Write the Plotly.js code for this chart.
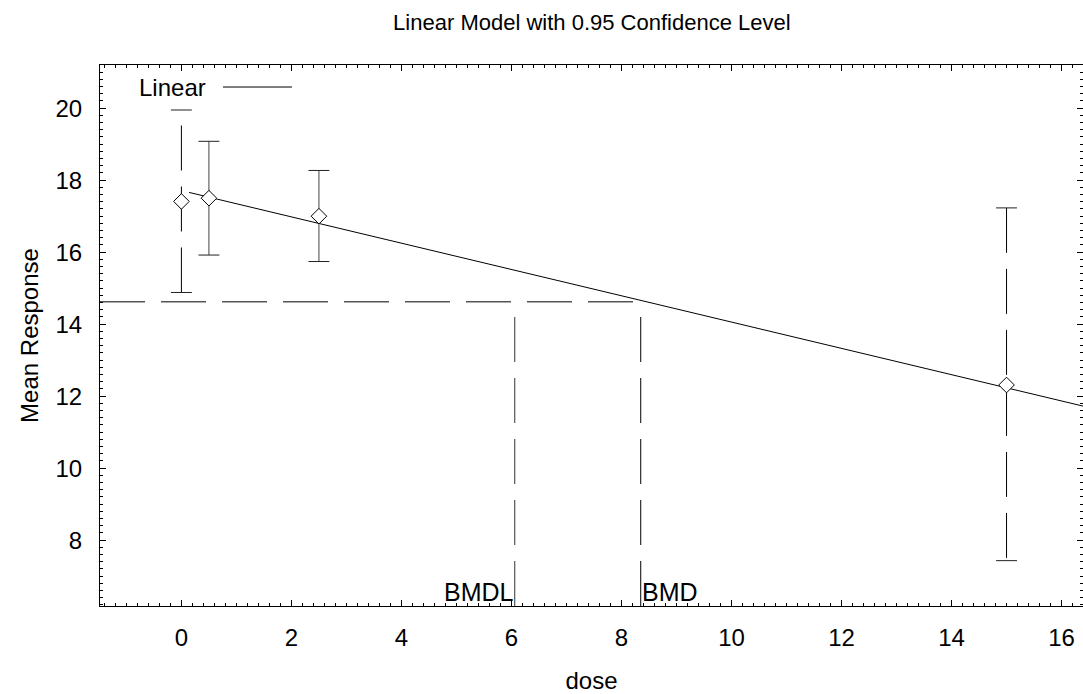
<!DOCTYPE html>
<html>
<head>
<meta charset="utf-8">
<script src="https://cdn.plot.ly/plotly-3.0.1.min.js"></script>
<style>html,body{margin:0;padding:0;background:#fff;}#chart{width:1083px;height:694px;}</style>
</head>
<body>
<div id="chart"></div>
<script>
// ---- data ----
const doses    = [0, 0.5, 2.5, 15];
const meanResp = [17.41, 17.50, 17.00, 12.31];
const ciLower  = [14.88, 15.92, 15.74, 7.43];
const ciUpper  = [19.95, 19.08, 18.27, 17.23];
const fitDose  = [0.14, 16.4];
const fitResp  = [17.66, 11.72];
const bmdlDose = 6.06;
const bmdDose  = 8.35;
const bmrResp  = 14.62;
const xTickVals = [0, 2, 4, 6, 8, 10, 12, 14, 16];
const yTickVals = [8, 10, 12, 14, 16, 18, 20];

// ---- layout constants ----
const xRange = [-1.48, 16.39];
const yRange = [6.17, 21.2];
const FONT = 'Liberation Sans, Arial, sans-serif';
const DASH = '45px,16px';
const capHalf = 0.19;
// style of each error bar: dashed or solid, and drawing direction
const barStyle = [
  {dash: DASH, fromTop: false, color: '#000'},
  {dash: 'solid', fromTop: false, color: '#444'},
  {dash: 'solid', fromTop: false, color: '#444'},
  {dash: DASH, fromTop: true, color: '#000'}
];

const traces = [];
// error bar stems
doses.forEach((d, i) => {
  const s = barStyle[i];
  traces.push({
    type: 'scatter', mode: 'lines',
    x: [d, d],
    y: s.fromTop ? [ciUpper[i], ciLower[i]] : [ciLower[i], ciUpper[i]],
    line: {color: s.color, width: 1, dash: s.dash},
    hoverinfo: 'skip', showlegend: false
  });
});
// caps
const capX = [], capY = [];
doses.forEach((d, i) => {
  capX.push(d - capHalf, d + capHalf, null, d - capHalf, d + capHalf, null);
  capY.push(ciUpper[i], ciUpper[i], null, ciLower[i], ciLower[i], null);
});
traces.push({
  type: 'scatter', mode: 'lines', x: capX, y: capY,
  line: {color: '#222', width: 1}, hoverinfo: 'skip', showlegend: false
});
// BMD reference lines
traces.push({
  type: 'scatter', mode: 'lines',
  x: [xRange[0], bmdDose], y: [bmrResp, bmrResp],
  line: {color: '#000', width: 1, dash: DASH}, hoverinfo: 'skip', showlegend: false
});
traces.push({
  type: 'scatter', mode: 'lines',
  x: [bmdlDose, bmdlDose], y: [yRange[0], bmrResp],
  line: {color: '#333', width: 1, dash: DASH}, hoverinfo: 'skip', showlegend: false
});
traces.push({
  type: 'scatter', mode: 'lines',
  x: [bmdDose, bmdDose], y: [yRange[0], bmrResp],
  line: {color: '#000', width: 1, dash: DASH}, hoverinfo: 'skip', showlegend: false
});
// fitted linear model
traces.push({
  type: 'scatter', mode: 'lines', name: 'Linear',
  x: fitDose, y: fitResp,
  line: {color: '#000', width: 1}, hoverinfo: 'skip', showlegend: false
});
// observed means
traces.push({
  type: 'scatter', mode: 'markers',
  x: doses, y: meanResp,
  marker: {symbol: 'diamond', size: 12, color: '#fff', line: {color: '#000', width: 1}},
  hoverinfo: 'skip', showlegend: false
});

const axisCommon = {
  showgrid: false, zeroline: false, showline: true, linecolor: '#000', linewidth: 1,
  mirror: 'allticks', ticks: 'inside', ticklen: 6, tickcolor: '#000', tickwidth: 1,
  minor: {ticks: 'inside', ticklen: 3, dtick: 0.2, tickcolor: '#000', tickwidth: 1, showgrid: false},
  tickfont: {family: FONT, size: 24, color: '#000'}
};

const layout = {
  width: 1083, height: 694,
  margin: {l: 100, r: 0, t: 65, b: 88, pad: 0},
  paper_bgcolor: '#fff', plot_bgcolor: '#fff',
  font: {family: FONT, color: '#000'},
  title: {
    text: 'Linear Model with 0.95 Confidence Level',
    font: {family: FONT, size: 22, color: '#000'},
    x: 0.5465, xref: 'container', xanchor: 'center',
    y: 1 - 22/694, yref: 'container', yanchor: 'middle'
  },
  xaxis: Object.assign({}, axisCommon, {
    range: xRange, tickmode: 'array', tickvals: xTickVals,
    ticklabelstandoff: 10,
    title: {text: 'dose', font: {family: FONT, size: 24, color: '#000'}, standoff: 22}
  }),
  yaxis: Object.assign({}, axisCommon, {
    range: yRange, tickmode: 'array', tickvals: yTickVals,
    ticklabelstandoff: 12,
    title: {text: 'Mean Response', font: {family: FONT, size: 24, color: '#000'}, standoff: 10}
  }),
  showlegend: false,
  annotations: [
    {text: 'Linear', xref: 'paper', yref: 'paper', x: 0.0376, y: 0.9575,
     xanchor: 'left', yanchor: 'middle', showarrow: false,
     font: {family: FONT, size: 24, color: '#000'}},
    {text: 'BMDL', xref: 'x', yref: 'y', x: bmdlDose, y: yRange[0],
     xanchor: 'right', yanchor: 'bottom', showarrow: false, xshift: 1, yshift: -2,
     font: {family: FONT, size: 25, color: '#000'}},
    {text: 'BMD', xref: 'x', yref: 'y', x: bmdDose, y: yRange[0],
     xanchor: 'left', yanchor: 'bottom', showarrow: false, xshift: -1, yshift: -2,
     font: {family: FONT, size: 25, color: '#000'}}
  ],
  shapes: [
    {type: 'line', xref: 'paper', yref: 'paper', x0: 0.1251, x1: 0.1953, y0: 0.9593, y1: 0.9593,
     line: {color: '#000', width: 1}}
  ]
};

Plotly.newPlot('chart', traces, layout, {displayModeBar: false, staticPlot: true});
</script>
</body>
</html>
